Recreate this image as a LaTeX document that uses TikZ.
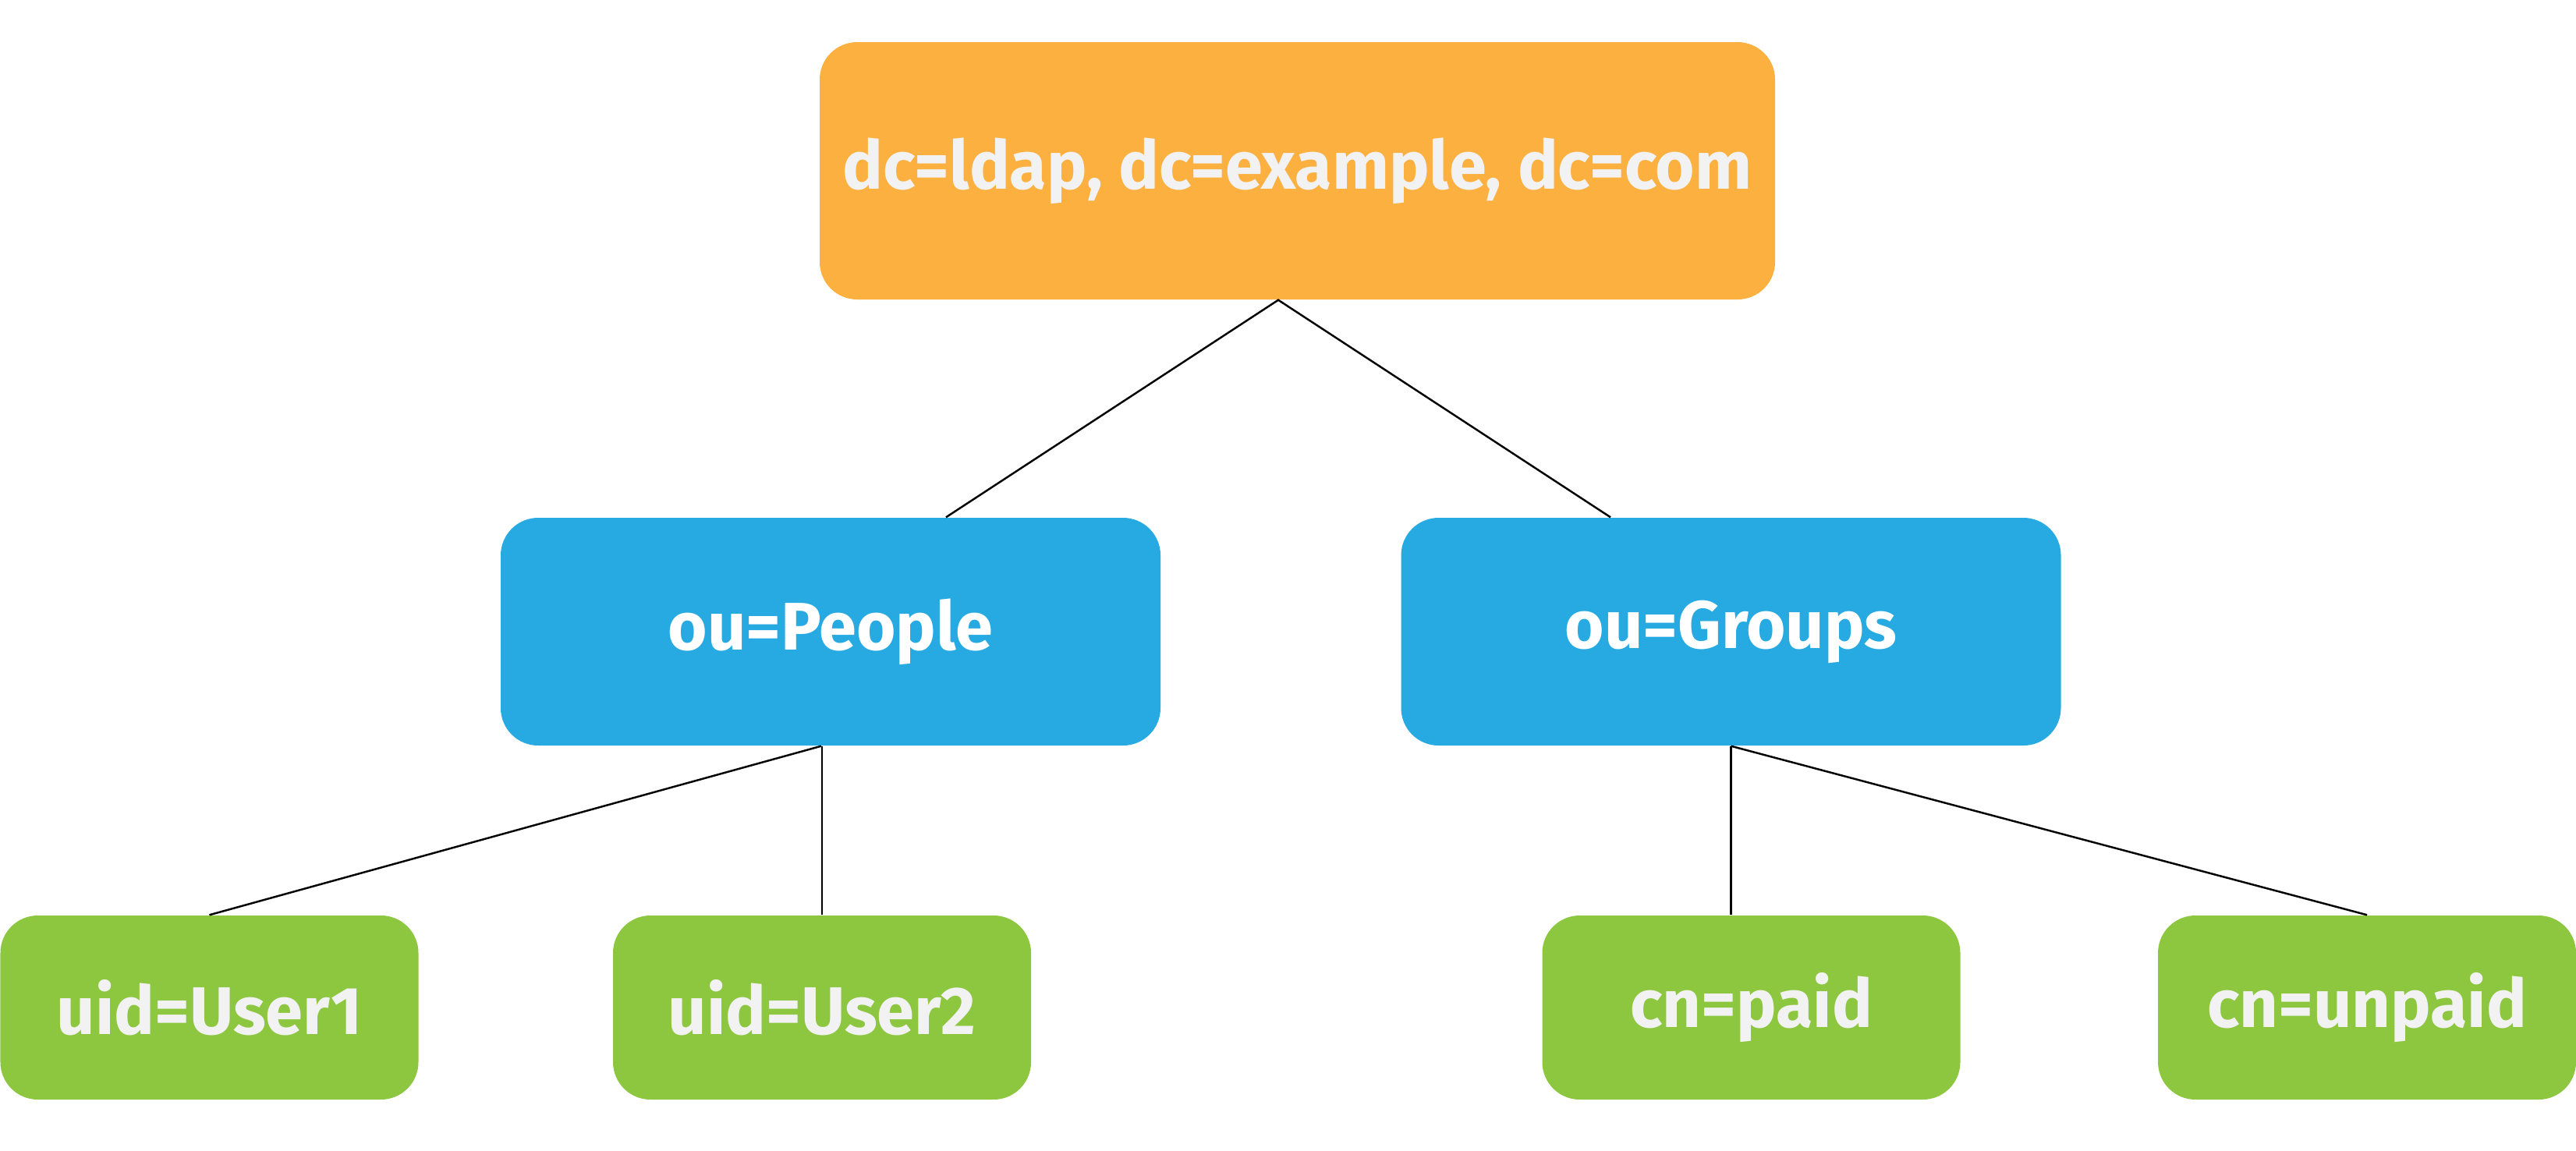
\documentclass[tikz,border=0pt]{standalone}
\usepackage{fontspec}
\setmainfont{Fira Sans}
\usepackage{xcolor}
\usetikzlibrary{positioning, calc}
\definecolor{rootorange}{HTML}{FBB040}
\definecolor{oublue}{HTML}{27AAE1}
\definecolor{leafgreen}{HTML}{8DC63F}
\definecolor{paletext}{HTML}{F2F2F2}

\begin{document}
\begin{tikzpicture}[
  entry/.style={rounded corners=0.48cm, inner sep=0pt, align=center,
    font=\fontsize{24.6}{29}\selectfont\bfseries},
  rootbox/.style={entry, fill=rootorange, text=paletext, minimum width=12.25cm, minimum height=3.30cm},
  oubox/.style={entry, fill=oublue, text=white, minimum width=8.46cm, minimum height=2.92cm},
  leafbox/.style={entry, fill=leafgreen, text=paletext, minimum width=5.36cm, minimum height=2.36cm},
  link/.style={line width=0.7pt, black}
]
\useasboundingbox (0, 0) rectangle (33.03, -14.75);
\node [rootbox] (root) at (16.635, -2.19) {dc=ldap, dc=example, dc=com};
\node [oubox] (people) at (10.65, -8.10) {ou=People};
\node [oubox] (groups) at (22.195, -8.10) {ou=Groups};
\node [leafbox] (user1) at (2.685, -12.92) {uid=User1};
\node [leafbox] (user2) at (10.54, -12.92) {uid=User2};
\node [leafbox] (paid) at (22.455, -12.92) {cn=paid};
\node [leafbox] (unpaid) at (30.35, -12.92) {cn=unpaid};
\draw [link] ([xshift=1.48cm]people.north) -- ([xshift=-0.245cm]root.south) -- ([xshift=-1.545cm]groups.north);
\draw [link] (user1.north) -- ([xshift=-0.12cm]people.south);
\draw [link] (user2.north) -- (user2.north |- people.south);
\draw [link] (groups.south) -- (groups.south |- paid.north);
\draw [link] (groups.south) -- (unpaid.north);
\end{tikzpicture}
\end{document}
